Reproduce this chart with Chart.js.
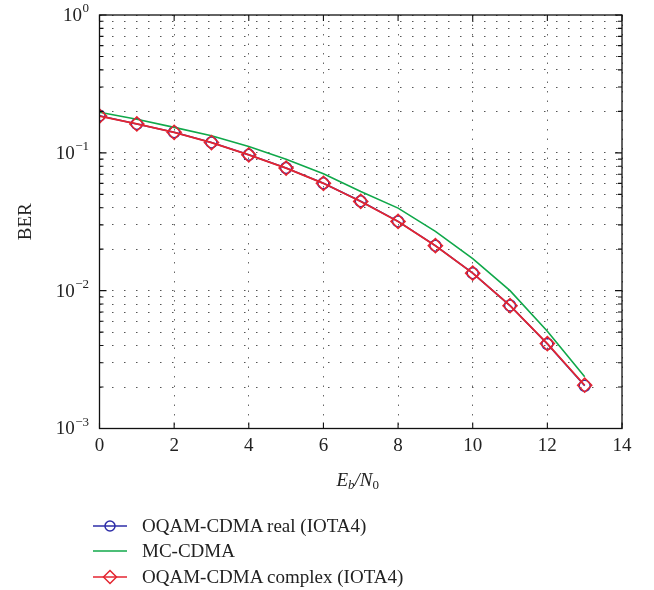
<!DOCTYPE html>
<html>
<head>
<meta charset="utf-8">
<script src="https://cdn.jsdelivr.net/npm/chart.js@4/dist/chart.umd.min.js"></script>
<style>
  html, body { margin: 0; padding: 0; background: #fff; }
  #wrap { position: relative; width: 654px; height: 590px; }
  #legend {
    position: absolute; left: 92px; top: 513px;
    font-family: 'Liberation Serif', 'DejaVu Serif', serif; font-size: 19px; color: #222;
  }
  .row { display: flex; align-items: center; height: 25.5px; white-space: nowrap; }
  .row svg { margin-right: 14px; flex: none; }
</style>
</head>
<body>
<div id="wrap">
  <canvas id="ber-chart" width="654" height="590"></canvas>
  <div id="legend">
    <div class="row">
      <svg width="36" height="16"><line x1="1" y1="8" x2="35" y2="8" stroke="#2e2ea8" stroke-width="1.5"/><circle cx="18" cy="8" r="5" fill="none" stroke="#2e2ea8" stroke-width="1.5"/></svg>
      <span>OQAM-CDMA real (IOTA4)</span>
    </div>
    <div class="row">
      <svg width="36" height="16"><line x1="1" y1="8" x2="35" y2="8" stroke="#10a84a" stroke-width="1.5"/></svg>
      <span>MC-CDMA</span>
    </div>
    <div class="row">
      <svg width="36" height="16"><line x1="1" y1="8" x2="35" y2="8" stroke="#e42530" stroke-width="1.5"/><polygon points="18,1.5 24.5,8 18,14.5 11.5,8" fill="none" stroke="#e42530" stroke-width="1.5"/></svg>
      <span>OQAM-CDMA complex (IOTA4)</span>
    </div>
  </div>
</div>
<script>
// Eb/N0 (dB) and BER curves
const ebn0 = [0, 1, 2, 3, 4, 5, 6, 7, 8, 9, 10, 11, 12, 13];
const berOqamReal = [0.186, 0.162, 0.141, 0.119, 0.0967, 0.0776, 0.0601, 0.0445, 0.0318, 0.0212, 0.0134, 0.0078, 0.0041, 0.00204];
const berMcCdma = [0.197, 0.175, 0.153, 0.133, 0.111, 0.090, 0.0705, 0.0524, 0.0397, 0.0269, 0.0171, 0.0100, 0.00507, 0.00237];
const berOqamComplex = [0.185, 0.162, 0.141, 0.1188, 0.0967, 0.0775, 0.0601, 0.0444, 0.0318, 0.0212, 0.0134, 0.00778, 0.00413, 0.00206];

// axis ticks
const xTicks = [0, 2, 4, 6, 8, 10, 12, 14];
const yDecades = [-3, -2, -1, 0];
const yMinorSteps = [2, 3, 4, 5, 6, 7, 8, 9];

const yTickValues = [];
yDecades.forEach(d => {
    yTickValues.push(Math.pow(10, d));
    if (d < 0) yMinorSteps.forEach(m => yTickValues.push(m * Math.pow(10, d)));
});

const serif = "'Liberation Serif', 'DejaVu Serif', serif";
const textColor = '#222';

// box, inward tick marks, decade labels and axis titles (matlab style)
const matlabAxes = {
    id: 'matlabAxes',
    afterDraw(chart) {
        const { ctx, chartArea: a, scales } = chart;
        const xs = scales.x, ys = scales.y;
        ctx.save();
        ctx.strokeStyle = '#111';
        ctx.lineWidth = 1.3;
        ctx.strokeRect(a.left, a.top, a.right - a.left, a.bottom - a.top);

        ctx.lineWidth = 1.1;
        ctx.beginPath();
        xTicks.forEach(v => {
            const px = xs.getPixelForValue(v);
            ctx.moveTo(px, a.bottom); ctx.lineTo(px, a.bottom - 6);
            ctx.moveTo(px, a.top); ctx.lineTo(px, a.top + 6);
        });
        yTickValues.forEach(v => {
            const py = ys.getPixelForValue(v);
            const len = Number.isInteger(Math.log10(v)) ? 7 : 4;
            ctx.moveTo(a.left, py); ctx.lineTo(a.left + len, py);
            ctx.moveTo(a.right, py); ctx.lineTo(a.right - len, py);
        });
        ctx.stroke();

        // 10^n labels
        ctx.fillStyle = textColor;
        ctx.textBaseline = 'middle';
        yDecades.forEach(d => {
            const py = ys.getPixelForValue(Math.pow(10, d));
            const sup = d === 0 ? '0' : '\u2212' + Math.abs(d);
            ctx.font = '13px ' + serif;
            const supW = ctx.measureText(sup).width;
            const right = 89;
            ctx.textAlign = 'right';
            ctx.fillText(sup, right, py - 6);
            ctx.font = '19px ' + serif;
            ctx.fillText('10', right - supW - 0.5, py + 1);
        });

        // BER
        ctx.save();
        ctx.translate(26, (a.top + a.bottom) / 2);
        ctx.rotate(-Math.PI / 2);
        ctx.textAlign = 'center';
        ctx.font = '19px ' + serif;
        ctx.fillText('BER', 0, 0);
        ctx.restore();

        // Eb/N0
        const parts = [
            { t: 'E', f: 'italic 19px ', dy: 0 },
            { t: 'b', f: 'italic 13px ', dy: 5 },
            { t: '/N', f: 'italic 19px ', dy: 0 },
            { t: '0', f: '13px ', dy: 5 }
        ];
        let total = 0;
        parts.forEach(p => { ctx.font = p.f + serif; p.w = ctx.measureText(p.t).width; total += p.w; });
        let x = (a.left + a.right) / 2 - total / 2 - 3;
        ctx.textAlign = 'left';
        parts.forEach(p => {
            ctx.font = p.f + serif;
            ctx.fillText(p.t, x, 481 + p.dy);
            x += p.w;
        });
        ctx.restore();
    }
};

new Chart(document.getElementById('ber-chart'), {
    type: 'line',
    data: {
        labels: ebn0,
        datasets: [
            {
                label: 'OQAM-CDMA real (IOTA4)',
                data: ebn0.map((x, i) => ({ x, y: berOqamReal[i] })),
                borderColor: '#2e2ea8',
                borderWidth: 1.6,
                pointStyle: 'circle',
                pointRadius: 5.5,
                pointBorderWidth: 1.5,
                pointBorderColor: '#2e2ea8',
                pointBackgroundColor: 'rgba(0,0,0,0)',
                tension: 0,
                order: 2
            },
            {
                label: 'MC-CDMA',
                data: ebn0.map((x, i) => ({ x, y: berMcCdma[i] })),
                borderColor: '#10a84a',
                borderWidth: 1.6,
                pointRadius: 0,
                tension: 0,
                order: 1
            },
            {
                label: 'OQAM-CDMA complex (IOTA4)',
                data: ebn0.map((x, i) => ({ x, y: berOqamComplex[i] })),
                borderColor: '#e42530',
                borderWidth: 1.8,
                pointStyle: 'rectRot',
                pointRadius: 7,
                pointBorderWidth: 1.6,
                pointBorderColor: '#e42530',
                pointBackgroundColor: 'rgba(0,0,0,0)',
                tension: 0,
                order: 0
            }
        ]
    },
    options: {
        responsive: false,
        animation: false,
        events: [],
        layout: { padding: { top: 15, right: 32, left: 0, bottom: 0 } },
        plugins: { legend: { display: false }, tooltip: { enabled: false } },
        scales: {
            x: {
                type: 'linear',
                min: 0,
                max: 14,
                afterBuildTicks(scale) { scale.ticks = xTicks.map(v => ({ value: v })); },
                ticks: { color: textColor, font: { family: serif, size: 19 }, padding: 6, maxRotation: 0 },
                grid: { color: '#666', lineWidth: 1, drawTicks: false },
                border: { display: false, dash: [1.5, 8] },
                afterFit(scale) { scale.height = 161.5; }
            },
            y: {
                type: 'logarithmic',
                min: 1e-3,
                max: 1,
                afterBuildTicks(scale) { scale.ticks = yTickValues.map(v => ({ value: v })); },
                ticks: { display: false, autoSkip: false },
                grid: { color: '#555', lineWidth: 1, drawTicks: false },
                border: { display: false, dash: [1.5, 10.5] },
                afterFit(scale) { scale.height = scale.height; scale.width = 99.5; }
            }
        }
    },
    plugins: [matlabAxes]
});
</script>
</body>
</html>
